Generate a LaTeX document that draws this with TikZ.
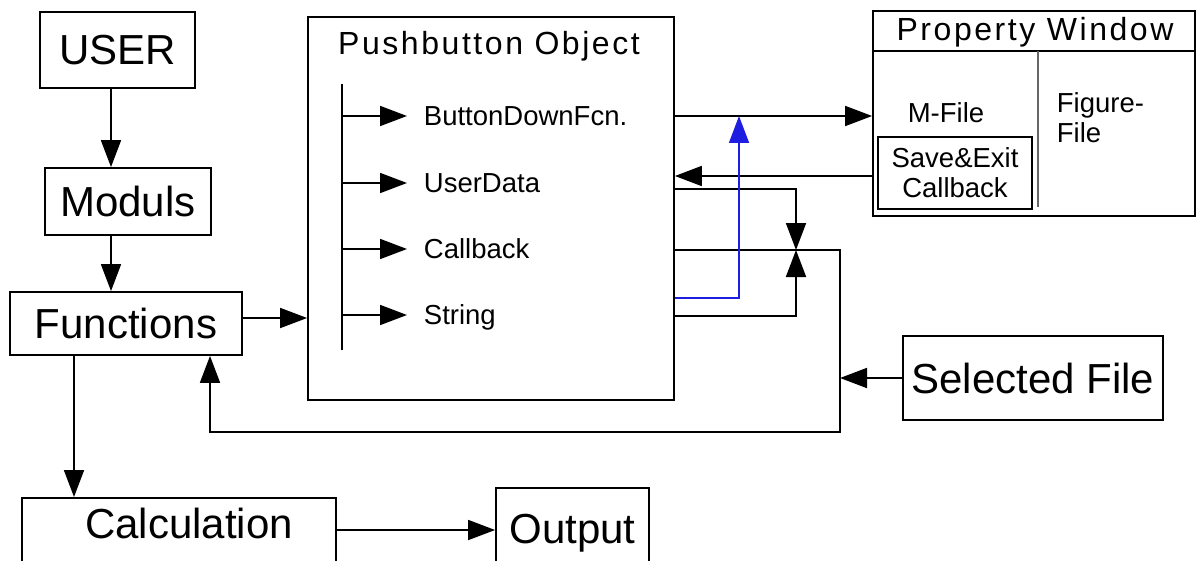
\documentclass[tikz,border=0pt]{standalone}
\usepackage{fontspec}
\setmainfont{Liberation Sans}
\newfontfamily\titlefont[LetterSpace=8]{Liberation Sans}
\usepackage{tikz}
\usetikzlibrary{arrows.meta}
\usepackage{xcolor}
\definecolor{linkblue}{RGB}{30,30,225}

\begin{document}
\begin{tikzpicture}[x=0.5pt,y=-0.5pt,>={Triangle[length=13.5pt,width=10pt]},line width=0.9pt,
  box/.style={draw,rectangle,inner sep=0pt},
  big/.style={font=\fontsize{21}{24}\selectfont},
  small/.style={font=\fontsize{13.75}{15}\selectfont},
  lbl/.style={small,inner sep=0pt,text height=9.8pt,text depth=0pt},
  title/.style={font=\titlefont\fontsize{16}{18}\selectfont}]
  \path[use as bounding box,clip] (0,0) rectangle (1197,561);
  % left column
  \node[box,big,minimum width=77.5pt,minimum height=38pt] (user) at (117.5,50) {USER};
  \node[box,big,minimum width=83pt,minimum height=33.5pt] (moduls) at (128,201.5) {Moduls};
  \node[box,big,minimum width=116pt,minimum height=31.5pt] (functions) at (126,323.5) {Functions};
  \node[box,big,anchor=north,text height=20.5pt,text depth=40pt,minimum width=157pt] (calc) at (179,497) {\hspace*{10pt}Calculation};
  \node[box,big,anchor=north,text height=28pt,text depth=40pt,minimum width=76.5pt] (output) at (572.5,487) {Output};
  % pushbutton object
  \node[box,minimum width=183pt,minimum height=191.5pt] (push) at (491,208.5) {};
  \node[title] (pushtitle) at (489,46) {Pushbutton Object};
  \coordinate (bustop) at (342,84);
  \coordinate (busbot) at (342,350);
  \draw (bustop) -- (busbot);
  \foreach \y/\name/\txt in {116/bdf/ButtonDownFcn., 183/udata/UserData, 249/cback/Callback, 315/strg/String} {
    \node[lbl,anchor=west] (\name) at (423,\y) {\txt};
    \draw[->] (bustop |- \name) -- ([xshift=-8pt]\name.west);
  }
  % property window
  \node[box,minimum width=161pt,minimum height=102.5pt] (prop) at (1034,113.5) {};
  \draw (prop.west |- 0,51) -- (prop.east |- 0,51);
  \node[title] (proptitle) at (1035,32) {Property Window};
  \node[small] (mfile) at (946,113) {M-File};
  \node[box,small,align=center,minimum width=77pt,minimum height=36pt] (savexit) at (955,173) {Save\&Exit\\Callback};
  \draw[black!60] (1038,51) -- (1038,207);
  \node[small,align=left,anchor=west,inner sep=2pt] (figfile) at (1052,118) {Figure-\\File};
  \node[box,big,minimum width=130pt,minimum height=42pt] (selected) at (1033,378) {Selected File};
  % connectors
  \draw[->] (user.south -| 111,0) -- (moduls.north -| 111,0);
  \draw[->] (moduls.south -| 111,0) -- (functions.north -| 111,0);
  \draw[->] (functions.east |- 0,318) -- (push.west |- 0,318);
  \draw[->] (functions.south -| 74,0) -- (calc.north -| 74,0);
  \draw[->] (calc.east |- 0,530) -- (output.west |- 0,530);
  \draw[->] (push.east |- bdf) -- (prop.west |- bdf);
  \draw[->] (prop.west |- 0,176) -- (push.east |- 0,176);
  \coordinate (join) at (796,250);
  \coordinate (loop) at (840,432);
  \draw[->] (push.east |- 0,189) -| (join);
  \draw[->] (push.east |- 0,316) -| (join);
  \draw[->] (push.east |- 0,250) -| (loop) -| (functions.south -| 210,0);
  \draw[->] (selected.west) -- (loop |- selected.west);
  \draw[->,linkblue,line width=0.8pt] (push.east |- 0,298) -| (739,116);
\end{tikzpicture}
\end{document}
